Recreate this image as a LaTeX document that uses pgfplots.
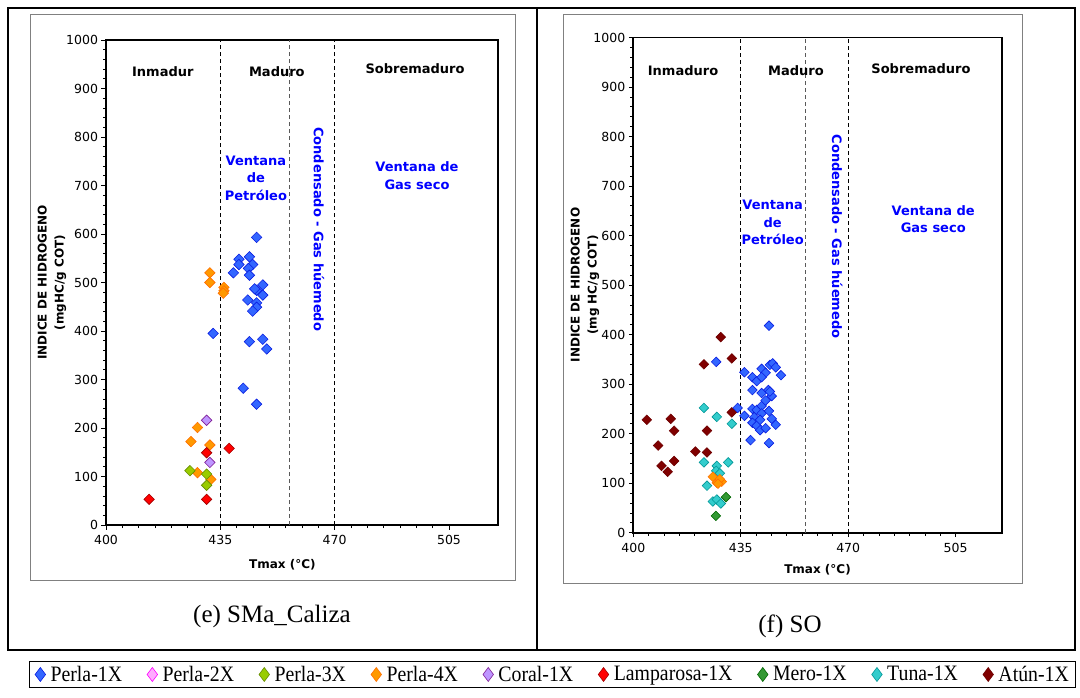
\documentclass[border=0pt]{standalone}
\usepackage{pgfplots}
\pgfplotsset{compat=1.18}
\usepackage{fontspec}
\setmainfont{DejaVu Sans}
\newfontfamily\serif{Liberation Serif}
\newfontfamily\legfont[FakeStretch=0.9]{Liberation Serif}

\definecolor{c1f}{RGB}{51,102,255}\definecolor{c1d}{RGB}{10,30,225}
\definecolor{c2f}{RGB}{255,170,255}\definecolor{c2d}{RGB}{255,0,255}
\definecolor{c3f}{RGB}{153,204,0}\definecolor{c3d}{RGB}{102,140,0}
\definecolor{c4f}{RGB}{255,153,0}\definecolor{c4d}{RGB}{255,110,0}
\definecolor{c5f}{RGB}{190,150,255}\definecolor{c5d}{RGB}{128,30,150}
\definecolor{c6f}{RGB}{255,0,0}\definecolor{c6d}{RGB}{160,0,0}
\definecolor{c7f}{RGB}{51,153,51}\definecolor{c7d}{RGB}{0,100,0}
\definecolor{c8f}{RGB}{51,204,204}\definecolor{c8d}{RGB}{0,150,150}
\definecolor{c9f}{RGB}{128,0,0}\definecolor{c9d}{RGB}{110,0,0}

\tikzset{
  reg/.style={font=\bfseries\fontsize{13}{15}\selectfont},
  blu/.style={text=blue, font=\bfseries\fontsize{13}{17.5}\selectfont, align=center},
}
\pgfplotsset{
  sty/.style n args={2}{only marks, mark=square*, mark options={rotate=45, fill=#1, draw=#2, line width=0.6pt}},
  leg/.style n args={2}{only marks, mark=diamond*, mark size=7pt, mark options={fill=#1, draw=#2, line width=0.6pt}},
  vr/.style={black, line width=0.8pt, dash pattern=on 4pt off 3pt, forget plot},
  hmap/.style={
    scale only axis, clip=false,
    xmin=400, xmax=520, ymin=0, ymax=1000,
    xtick={400,435,470,505}, ytick={0,100,...,1000},
    minor x tick num=6, minor y tick num=4,
    tick align=outside, tick pos=left,
    axis line style={line width=1.8pt},
    major tick length=4.5pt, minor tick length=3pt,
    every tick/.style={black, line width=0.8pt},
    tick label style={font=\fontsize{12.5}{14}\selectfont},
    xticklabel style={yshift=-2pt},
    /pgf/number format/assume math mode=true,
    /pgf/number format/set thousands separator={},
    xlabel style={font=\bfseries\fontsize{12}{14}\selectfont, anchor=center},
    ylabel style={font=\bfseries\fontsize{12}{17}\selectfont, align=center, anchor=center},
  },
}

\begin{document}
\begin{tikzpicture}
\useasboundingbox (0,0) rectangle (1080pt,-697pt);
\draw[line width=2pt] (8pt,-8pt) rectangle (1075pt,-650pt);
\draw[line width=2pt] (537pt,-8pt) -- (537pt,-650pt);
\draw[gray, line width=0.8pt] (30pt,-14pt) rectangle (515pt,-580pt);
\draw[gray, line width=0.8pt] (563pt,-14pt) rectangle (1022pt,-583pt);

% ---------------- left: SMa_Caliza
\begin{axis}[hmap, at={(106pt,-525pt)}, anchor=south west, width=392pt, height=485pt,
  xlabel={Tmax (°C)}, xlabel style={at={(axis description cs:0.45,-0.0825)}},
  ylabel={INDICE DE HIDROGENO\\(mgHC/g COT)}, ylabel style={at={(axis description cs:-0.138,0.5)}},
  legend columns=9,
  legend image code/.code={\draw[#1] plot coordinates {(5pt,0pt)};},
  legend style={at={(1.139,-0.3082)}, anchor=center, draw=black, line width=0.8pt,
    font=\legfont\fontsize{22}{24}\selectfont, inner xsep=6pt, inner ysep=4pt,
    nodes={inner sep=1pt},
    /tikz/every odd column/.append style={column sep=4pt},
    /tikz/every even column/.append style={column sep=24pt}},
  legend cell align=left]
\addlegendimage{leg={c1f}{c1d}}\addlegendentry{Perla-1X}
\addlegendimage{leg={c2f}{c2d}}\addlegendentry{Perla-2X}
\addlegendimage{leg={c3f}{c3d}}\addlegendentry{Perla-3X}
\addlegendimage{leg={c4f}{c4d}}\addlegendentry{Perla-4X}
\addlegendimage{leg={c5f}{c5d}}\addlegendentry{Coral-1X}
\addlegendimage{leg={c6f}{c6d}}\addlegendentry{Lamparosa-1X}
\addlegendimage{leg={c7f}{c7d}}\addlegendentry{Mero-1X}
\addlegendimage{leg={c8f}{c8d}}\addlegendentry{Tuna-1X}
\addlegendimage{leg={c9f}{c9d}}\addlegendentry{Atún-1X}

\addplot[vr] coordinates {(435,0) (435,1000)};
\addplot[vr, gray!70!black] coordinates {(456,0) (456,1000)};
\addplot[vr] coordinates {(470,0) (470,1000)};

\addplot[sty={c1f}{c1d}, mark size=3.7pt, forget plot] coordinates {
(446.1,593) (440.7,548) (443.9,553) (440.7,537) (444.9,537) (443.6,529) (439.0,520) (443.9,515)
(448.0,495) (446.1,484) (445.5,487) (448.0,474) (443.4,464) (446.1,458) (446.1,449) (444.9,441)
(432.8,395) (443.9,378) (448.0,383) (449.2,363) (442.0,282) (446.1,249)};
\addplot[sty={c4f}{c4d}, mark size=3.7pt, forget plot] coordinates {
(431.8,520) (431.8,500) (436.1,490) (436.1,483) (435.9,478) (428.0,201) (426.0,172) (431.8,165) (428.0,108) (432.1,94)};
\addplot[sty={c5f}{c5d}, mark size=3.7pt, forget plot] coordinates {(430.8,216) (431.8,129)};
\addplot[sty={c6f}{c6d}, mark size=3.7pt, forget plot] coordinates {(430.8,149) (437.7,158) (413.2,53) (430.8,53)};
\addplot[sty={c3f}{c3d}, mark size=3.7pt, forget plot] coordinates {(425.7,112) (430.8,105) (430.8,82)};

\node[reg] at (axis cs:417.4,934) {Inmadur};
\node[reg] at (axis cs:452.3,934) {Maduro};
\node[reg] at (axis cs:494.6,940) {Sobremaduro};
\node[blu] at (axis cs:445.9,715) {Ventana\\de\\Petróleo};
\node[blu, rotate=-90] at (axis cs:465.2,610) {Condensado - Gas húemedo};
\node[blu] at (axis cs:495.2,720) {Ventana de\\Gas seco};
\end{axis}

% ---------------- right: SO
\begin{axis}[hmap, at={(633.3pt,-532.7pt)}, anchor=south west, width=368.4pt, height=495.2pt,
  xlabel={Tmax (°C)}, xlabel style={at={(axis description cs:0.5,-0.075)}},
  ylabel={INDICE DE HIDROGENO\\(mg HC/g COT)}, ylabel style={at={(axis description cs:-0.131,0.5)}}]
\addplot[vr] coordinates {(435,0) (435,1000)};
\addplot[vr, gray!70!black] coordinates {(456,0) (456,1000)};
\addplot[vr] coordinates {(470,0) (470,1000)};

\addplot[sty={c9f}{c9d}, mark size=3.4pt] coordinates {
(404.4,228) (408.1,176) (409.2,135) (411.2,123) (412.2,230) (413.3,206) (413.3,145) (420.2,164)
(424.0,162) (424.0,206) (423.0,340) (428.5,395) (432.1,352) (432.1,243)};
\addplot[sty={c8f}{c8d}, mark size=3.4pt] coordinates {
(423.0,252) (427.2,234) (432.1,220) (423.0,142) (427.2,135) (430.9,142) (427.0,125) (428.2,120)
(424.0,95) (425.9,63) (427.2,67) (428.5,59)};
\addplot[sty={c4f}{c4d}, mark size=3.4pt] coordinates {
(425.9,113) (427.2,101) (428.8,103) (428.2,108) (427.6,99)};
\addplot[sty={c7f}{c7d}, mark size=3.4pt] coordinates {(430.2,72) (426.9,34)};
\addplot[sty={c1f}{c1d}, mark size=3.4pt] coordinates {
(427.0,345) (444.2,418) (436.2,324) (438.8,314) (440.2,306) (441.8,331) (443.1,323) (441.8,314)
(444.5,339) (445.4,342) (446.4,334) (448.1,318) (434.0,252) (436.2,236) (438.8,288) (438.8,250)
(440.2,248) (441.8,256) (443.1,267) (441.8,282) (444.0,288) (445.1,276) (444.5,285) (441.8,241)
(439.4,233) (438.8,222) (440.2,216) (441.3,207) (443.1,211) (444.2,246) (445.1,230) (446.4,218)
(438.2,187) (444.2,181) (441.3,228)};

\node[reg] at (axis cs:416.2,934) {Inmaduro};
\node[reg] at (axis cs:453.0,934) {Maduro};
\node[reg] at (axis cs:493.7,938) {Sobremaduro};
\node[blu] at (axis cs:445.4,626) {Ventana\\de\\Petróleo};
\node[blu, rotate=-90] at (axis cs:466.4,598) {Condensado - Gas húemedo};
\node[blu] at (axis cs:497.7,633) {Ventana de\\Gas seco};
\end{axis}

\node[font=\serif\fontsize{25}{28}\selectfont] at (272pt,-616pt) {(e) SMa\_Caliza};
\node[font=\serif\fontsize{25}{28}\selectfont] at (790pt,-626pt) {(f) SO};
\end{tikzpicture}
\end{document}
